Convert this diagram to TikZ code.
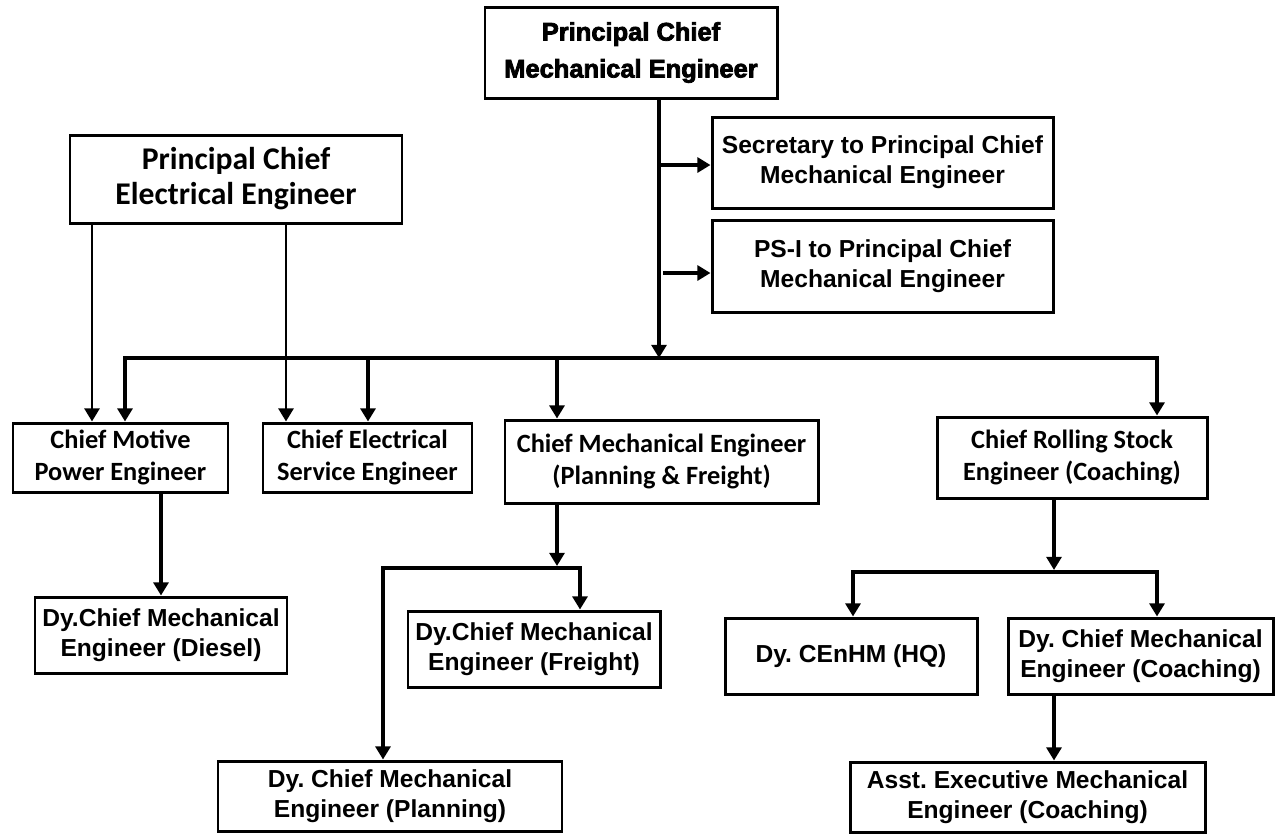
\documentclass[tikz,border=0pt]{standalone}
\usepackage{fontspec}
\newfontfamily\arialfont{Liberation Sans}
\newfontfamily\calfont{Carlito}
\newfontfamily\blackfont{Liberation Sans}[BoldFeatures={FakeBold=3}]
\usepackage{tikz}
\usetikzlibrary{calc, positioning, arrows.meta}
\frenchspacing

\begin{document}
\begin{tikzpicture}[
            x=0.02cm, y=-0.02cm, % one unit = one pixel of the chart
            >={Triangle[length=7.5pt, width=8.5pt]},
            wh/.style 2 args={minimum width=#1*0.02cm, minimum height=#2*0.02cm},
            box_style/.style={draw, line width=1.7pt, inner sep=0pt, align=center},
            arial_box/.style={box_style, font=\arialfont\bfseries\fontsize{14}{17}\selectfont},
            calibri_box/.style={box_style, font=\calfont\bfseries\fontsize{15}{18}\selectfont},
            head_box/.style={box_style, font=\blackfont\bfseries\fontsize{14.5}{21}\selectfont},
            edge_style/.style={->, line width=2.3pt},
            bus_style/.style={<->, line width=2.3pt, line join=miter},
            elec_edge/.style={->, line width=1.7pt}
        ]
        \useasboundingbox (0,0) rectangle (1285,833);

        % Top level
        \node[head_box, wh={292}{91}] (pcme) at (631,52.5) {Principal Chief\\Mechanical Engineer};
        \node[calibri_box, wh={332}{88}, font=\calfont\bfseries\fontsize{18}{20}\selectfont] (pcee) at (236,179) {Principal Chief\\Electrical Engineer};

        % Staff boxes
        \node[arial_box, wh={341}{91}] (sec) at (882.5,162.5) {Secretary to Principal Chief\\Mechanical Engineer};
        \node[arial_box, wh={341}{92}] (psi) at (882.5,266) {PS-I to Principal Chief\\Mechanical Engineer};

        % Chiefs
        \node[calibri_box, wh={215}{69}] (cmpe) at (120.5,457.5) {Chief Motive\\Power Engineer};
        \node[calibri_box, wh={209}{69}] (cese) at (367.5,457.5) {Chief Electrical\\Service Engineer};
        \node[calibri_box, wh={313}{83}] (cmepf) at (661.5,461.5) {Chief Mechanical Engineer\\(Planning \& Freight)};
        \node[calibri_box, wh={270}{81}] (crse) at (1072,457.5) {Chief Rolling Stock\\Engineer (Coaching)};

        % Deputies
        \node[arial_box, wh={252}{76}] (diesel) at (161,635) {Dy.Chief Mechanical\\Engineer (Diesel)};
        \node[arial_box, wh={252}{76}] (freight) at (534,649) {Dy.Chief Mechanical\\Engineer (Freight)};
        \node[arial_box, wh={344}{70}] (planning) at (390,796) {Dy. Chief Mechanical\\Engineer (Planning)};
        \node[arial_box, wh={252}{76}] (cenhm) at (851,656) {Dy. CEnHM (HQ)};
        \node[arial_box, wh={265}{76}] (coach) at (1140.5,656) {Dy. Chief Mechanical\\Engineer (Coaching)};
        \node[arial_box, wh={355}{70}] (asst) at (1027.5,797) {Asst. Executive Mechanical\\Engineer (Coaching)};

        % Junction points
        \coordinate (busM) at (659,358);
        \coordinate (dcmpe) at (125,358);
        \coordinate (dcese) at (368,358);
        \coordinate (dcmepf) at (557,358);
        \coordinate (dcrse) at (1157,358);
        \coordinate (sj1) at (659,165);
        \coordinate (sj2) at (663,273);
        \coordinate (ea) at (92,300);
        \coordinate (eb) at (286,300);
        \coordinate (pfj) at (557,566);
        \coordinate (pfl) at (383,568);
        \coordinate (pfr) at (580,568);
        \coordinate (csj) at (1054,570);
        \coordinate (csl) at (853,572);
        \coordinate (csr) at (1157,572);

        % Edges
        % PCME down to the main bus, and to staff
        \draw[edge_style] (pcme.south -| busM) -- (busM);
        \draw[edge_style] (sj1) -- (sj1 -| sec.west);
        \draw[edge_style] (sj2) -- (sj2 -| psi.west);

        % Main bus to chiefs
        \draw[bus_style] (dcmpe |- cmpe.north) -- (dcmpe) -- (dcrse) -- (dcrse |- crse.north);
        \foreach \n in {cese, cmepf} {
                \draw[edge_style] (d\n) -- (d\n |- \n.north);
            }

        % PCEE to its two chiefs
        \draw[elec_edge] (pcee.south -| ea) -- (cmpe.north -| ea);
        \draw[elec_edge] (pcee.south -| eb) -- (cese.north -| eb);

        % Chiefs to deputies
        \draw[edge_style] (cmpe.south -| diesel.north) -- (diesel.north);
        \draw[edge_style] (pfj |- cmepf.south) -- (pfj);
        \draw[bus_style] (pfl |- planning.north) -- (pfl) -- (pfr) -- (pfr |- freight.north);
        \draw[edge_style] (csj |- crse.south) -- (csj);
        \draw[bus_style] (csl |- cenhm.north) -- (csl) -- (csr) -- (csr |- coach.north);
        \draw[edge_style] (csj |- coach.south) -- (csj |- asst.north);

    \end{tikzpicture}
\end{document}
